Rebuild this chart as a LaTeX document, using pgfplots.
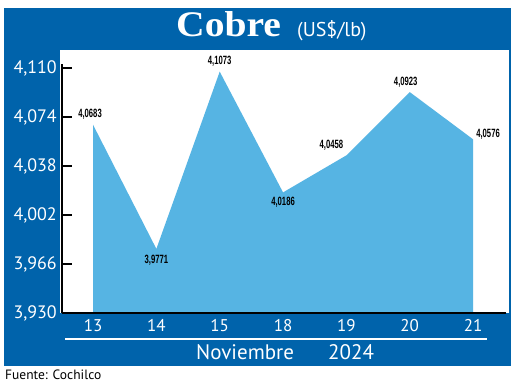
\documentclass[border=0pt]{standalone}
\usepackage{fontspec}
\setmainfont{PT Sans}
\newfontfamily\titlefont[FakeStretch=1.1]{Liberation Serif}
\newfontfamily\labfont[FakeStretch=0.64]{Liberation Sans}
\usepackage{pgfplots}
\pgfplotsset{compat=1.18}
\definecolor{dblue}{RGB}{0,99,171}
\definecolor{lblue}{RGB}{86,180,227}
\begin{document}
\begin{tikzpicture}
\begin{scope}[x=1pt,y=1pt]
\path (0,0) rectangle (520,387);
\fill[dblue] (4,21) rectangle (511,379);
\fill[white] (60,74) rectangle (509,337);
\node[anchor=base west, inner sep=0pt, text=white, font=\titlefont\bfseries\fontsize{36}{40}\selectfont] at (176,350) {Cobre};
\node[anchor=base west, inner sep=0pt, text=white, font=\fontsize{20}{24}\selectfont] at (297,350) {(US\$/lb)};
\draw[white, line width=1.5pt] (65,48) -- (487,48);
\node[anchor=base west, inner sep=0pt, text=white, font=\fontsize{21}{25}\selectfont] at (196,27) {Noviembre};
\node[anchor=base west, inner sep=0pt, text=white, font=\fontsize{21}{25}\selectfont] at (328,27) {2024};
\node[anchor=base west, inner sep=0pt, text=black, font=\fontsize{13.5}{16}\selectfont] at (5,7) {Fuente: Cochilco};
\end{scope}
\begin{axis}[
  at={(62pt,74pt)}, anchor=south west, scale only axis,
  width=444pt, height=249.1pt,
  xmin=-0.49, xmax=6.52, ymin=3.930, ymax=4.113,
  axis x line=bottom, axis y line=left,
  axis line style={-, black, line width=2pt},
  xtick={0,1,2,3,4,5,6}, xticklabels={13,14,15,18,19,20,21},
  x tick style={draw=none},
  ytick={3.930,3.966,4.002,4.038,4.074,4.110},
  y tick style={black, line width=2pt},
  tick align=inside, major tick length=10pt,
  yticklabel style={text=white, font=\fontsize{18}{20}\selectfont, anchor=east, inner sep=0pt, xshift=-5pt,
    /pgf/number format/.cd, fixed, fixed zerofill, precision=3, use comma, assume math mode=true},
  xticklabel style={text=white, font=\fontsize{17}{20}\selectfont, anchor=base, inner sep=0pt, yshift=-19pt},
  axis on top,
  nodes near coords, point meta=explicit symbolic,
  visualization depends on={value \thisrow{dx} \as \dx},
  visualization depends on={value \thisrow{dy} \as \dy},
  every node near coord/.style={anchor=center, xshift=\dx pt, yshift=\dy pt, font=\labfont\bfseries\fontsize{12}{13}\selectfont, text=black, inner sep=0pt},
]
\addplot[fill=lblue, draw=none] table[x=x, y=y, meta=lab] {
x y lab dx dy
0 4.0683 4,0683 -3 10
1 3.9771 3,9771 0 -11
2 4.1073 4,1073 0 10
3 4.0186 4,0186 0 -10
4 4.0458 4,0458 -15 10
5 4.0923 4,0923 -4 10
6 4.0576 4,0576 15 5
} \closedcycle;
\end{axis}
\end{tikzpicture}
\end{document}
